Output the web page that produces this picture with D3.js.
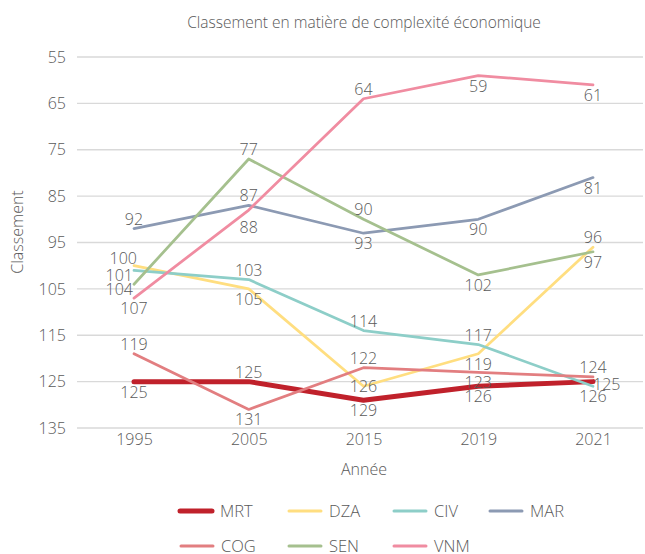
<!DOCTYPE html>
<html><head><meta charset="utf-8">
<script src="https://cdn.jsdelivr.net/npm/d3@7"></script>
<style>
html,body{margin:0;padding:0;background:#fff;}
svg text{font-family:"Open Sans",sans-serif;fill:#595959;font-weight:300;}
</style></head>
<body>
<svg id="chart" width="645" height="554"></svg>
<script>
const years = ["1995","2005","2015","2019","2021"];
const yTicks = [55,65,75,85,95,105,115,125,135];
const MRT = [125,125,129,126,125];
const DZA = [100,105,126,119,96];
const CIV = [101,103,114,117,126];
const MAR = [92,87,93,90,81];
const COG = [119,131,122,123,124];
const SEN = [104,77,90,102,97];
const VNM = [107,88,64,59,61];
const seriesNames = ["MRT","DZA","CIV","MAR","COG","SEN","VNM"];
const seriesValues = [MRT,DZA,CIV,MAR,COG,SEN,VNM];

// styling (separate from data)
const colors = {MRT:"#C0212B",DZA:"#FFDE80",CIV:"#8DCEC8",MAR:"#8C9AB3",COG:"#E27E80",SEN:"#A5C08E",VNM:"#F08CA1"};
const widths = {MRT:5,DZA:2.75,CIV:2.75,MAR:2.75,COG:2.75,SEN:2.75,VNM:2.75};
const placements = {
  MRT:["below","above","below","below","right"],
  DZA:["aboveLeft","below","center","below","above"],
  CIV:["left","above","above","above","below"],
  MAR:["above","above","below","below","below"],
  COG:["above","below","above","below","above"],
  SEN:["left","above","above","below","below"],
  VNM:["below","belowFar","above","below","below"]
};
const placeCfg = {
  above:{anchor:"middle",dx:0,dy:-4},
  below:{anchor:"middle",dx:0,dy:16},
  belowFar:{anchor:"middle",dx:0,dy:23},
  center:{anchor:"middle",dx:0,dy:5.5},
  left:{anchor:"end",dx:-1,dy:11},
  aboveLeft:{anchor:"end",dx:3,dy:-2},
  right:{anchor:"start",dx:0,dy:8}
};

const svg = d3.select("#chart");
const x = d3.scalePoint().domain(years).range([134,593]);
const y = d3.scaleLinear().domain([55,135]).range([57,428]);
const gridX0 = 77, gridX1 = 643;

// title
svg.append("text").attr("x",364).attr("y",28).attr("text-anchor","middle")
  .attr("font-size",15.5).text("Classement en matière de complexité économique");

// gridlines
svg.append("g").selectAll("line").data(yTicks).join("line")
  .attr("x1",gridX0).attr("x2",gridX1)
  .attr("y1",d=>y(d)).attr("y2",d=>y(d))
  .attr("stroke","#d9d9d9").attr("stroke-width",1.3);

// y axis labels
const yAxis = d3.axisLeft(y).tickValues(yTicks).tickSize(0).tickPadding(0);
const gy = svg.append("g").attr("transform","translate(66,0)").call(yAxis);
gy.select(".domain").remove();
gy.selectAll("text").attr("font-size",16).attr("font-family","Open Sans").attr("font-weight",300).attr("fill","#595959");

// x axis labels
const xAxis = d3.axisBottom(x).tickSize(0).tickPadding(0);
const gx = svg.append("g").attr("transform","translate(0,434)").call(xAxis);
gx.select(".domain").remove();
gx.selectAll("text").attr("font-size",16).attr("font-family","Open Sans").attr("font-weight",300).attr("fill","#595959");

// axis titles
svg.append("text").attr("x",364).attr("y",475).attr("text-anchor","middle")
  .attr("font-size",16).text("Année");
svg.append("text").attr("transform","translate(23,232) rotate(-90)")
  .attr("text-anchor","middle").attr("font-size",16).text("Classement");

// lines
const line = d3.line().x((d,i)=>x(years[i])).y(d=>y(d));
seriesNames.forEach((name,si)=>{
  svg.append("path").datum(seriesValues[si])
    .attr("d",line).attr("fill","none")
    .attr("stroke",colors[name]).attr("stroke-width",widths[name])
    .attr("stroke-linejoin","round").attr("stroke-linecap","round");
});

// labels
seriesNames.forEach((name,si)=>{
  const g = svg.append("g");
  g.selectAll("text").data(seriesValues[si]).join("text")
    .attr("x",(d,i)=>x(years[i])+placeCfg[placements[name][i]].dx)
    .attr("y",(d,i)=>y(d)+placeCfg[placements[name][i]].dy)
    .attr("text-anchor",(d,i)=>placeCfg[placements[name][i]].anchor)
    .attr("font-size",16)
    .text(d=>d);
});

// legend
const legendPos = [[178,511],[287,511],[392,511],[488,511],[179,546],[287,546],[392,546]];
seriesNames.forEach((name,i)=>{
  const [lx,ly] = legendPos[i];
  svg.append("line").attr("x1",lx+2).attr("x2",lx+34).attr("y1",ly).attr("y2",ly)
    .attr("stroke",colors[name]).attr("stroke-width",name==="MRT"?5:3)
    .attr("stroke-linecap","round");
  svg.append("text").attr("x",lx+42).attr("y",ly+6).attr("font-size",16.5).text(name);
});
</script>
</body></html>
